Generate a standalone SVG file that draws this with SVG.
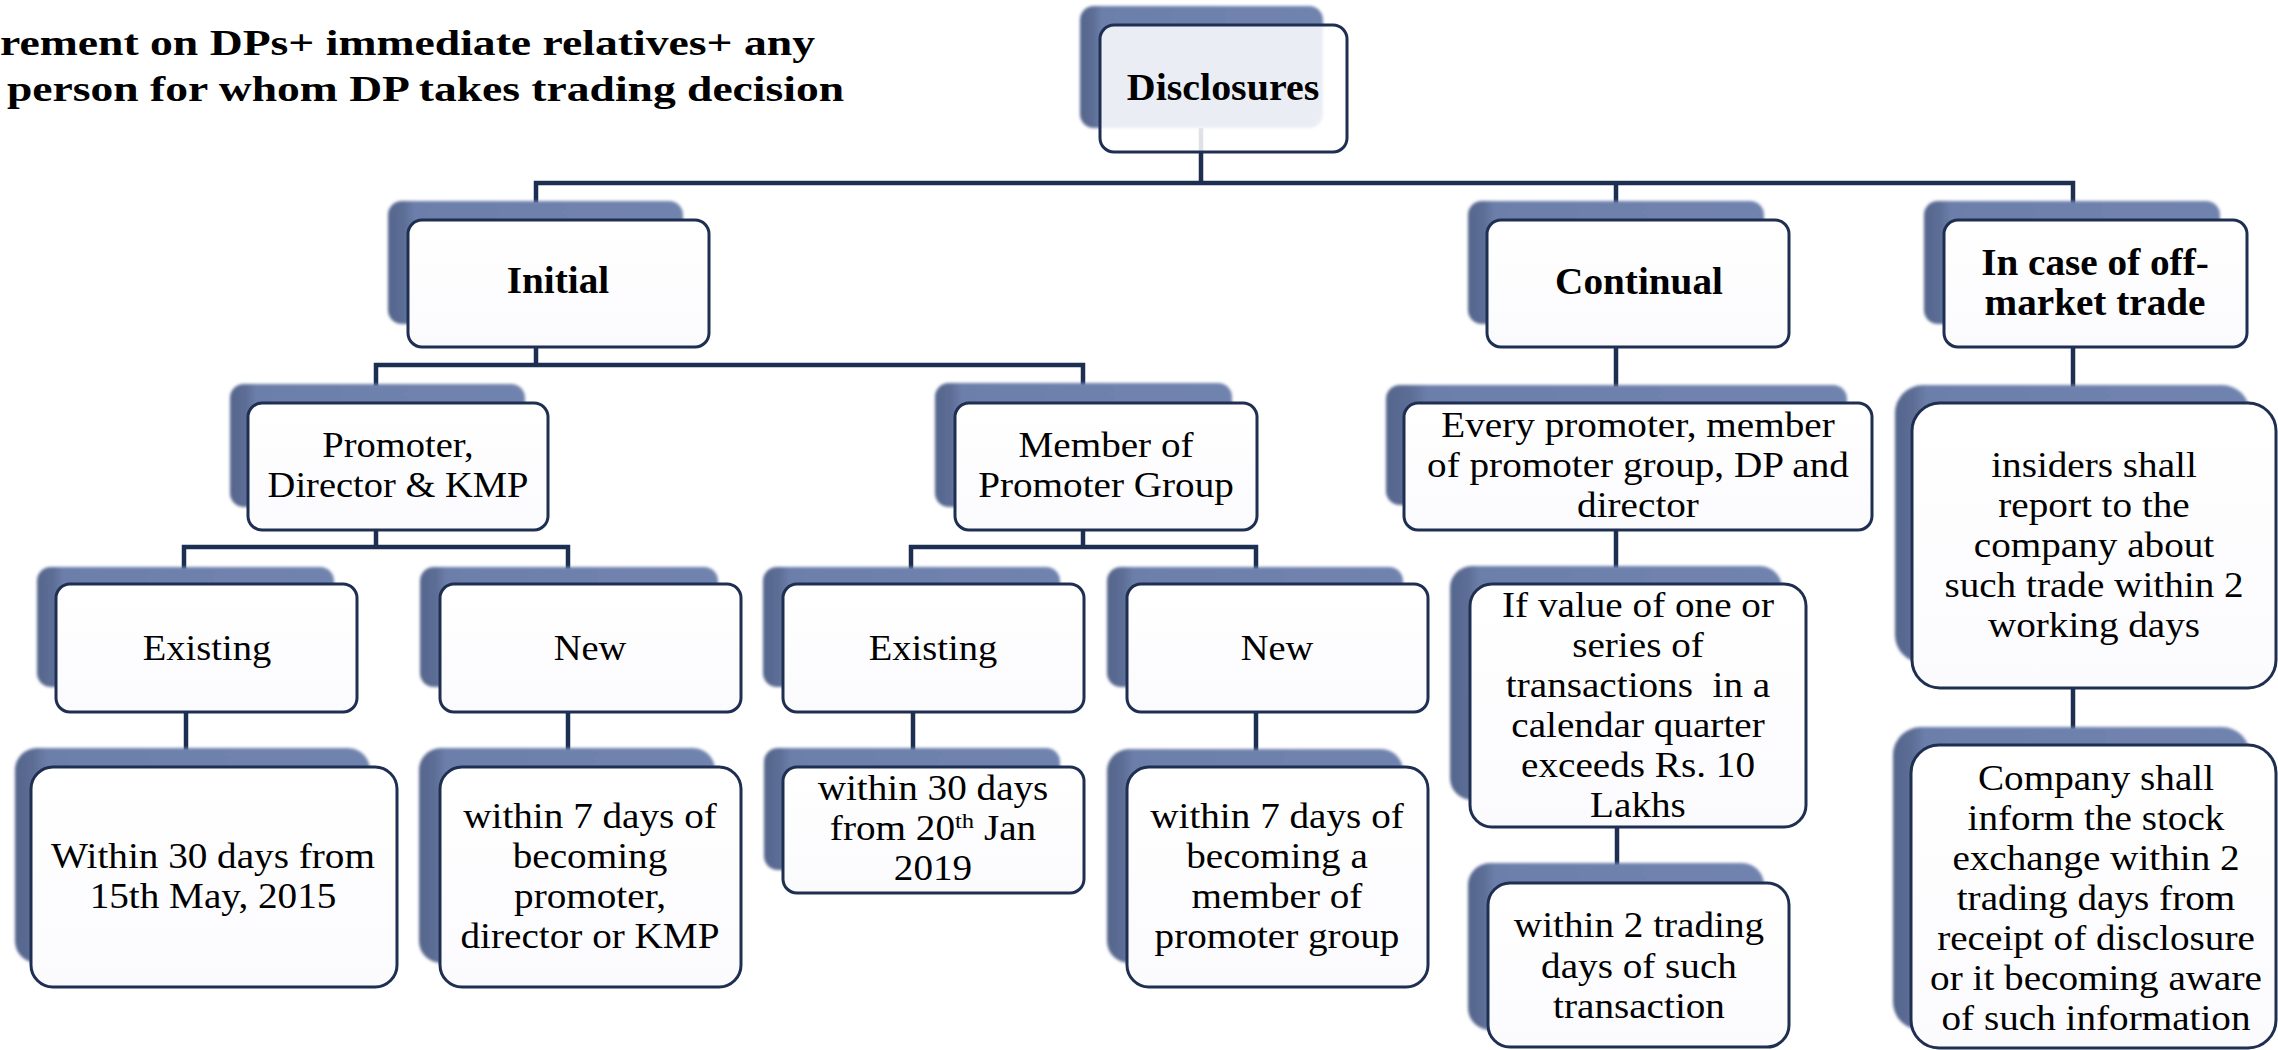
<svg xmlns="http://www.w3.org/2000/svg" width="2278" height="1050" viewBox="0 0 2278 1050">
<defs>
  <linearGradient id="shg" x1="0" y1="0" x2="1" y2="0">
    <stop offset="0" stop-color="#55658c"/>
    <stop offset="0.055" stop-color="#5d6e96"/>
    <stop offset="0.09" stop-color="#6c7faa"/>
    <stop offset="1" stop-color="#7083ae"/>
  </linearGradient>
  <linearGradient id="bxg" x1="0" y1="0" x2="0" y2="1">
    <stop offset="0" stop-color="#ffffff"/>
    <stop offset="1" stop-color="#fbfbfe"/>
  </linearGradient>
  <filter id="soft" x="-5%" y="-5%" width="110%" height="110%">
    <feGaussianBlur stdDeviation="1.6"/>
  </filter>
</defs>
<style>
  .sh { fill: url(#shg); filter: url(#soft); }
  .bx { fill: url(#bxg); stroke: #1e2f52; stroke-width: 3; }
  .bxt { fill: #ffffff; fill-opacity: 0.86; stroke: #1e2f52; stroke-width: 3; }
  .t { font-family: "Liberation Serif", "Times New Roman", serif; font-size: 35px; fill: #000; text-anchor: middle; }
  .b { font-family: "Liberation Serif", "Times New Roman", serif; font-size: 37px; font-weight: bold; fill: #000; text-anchor: middle; }
  .title { font-family: "Liberation Serif", "Times New Roman", serif; font-size: 36px; font-weight: bold; fill: #000; }
  .cn { fill: none; stroke: #1c2e52; stroke-width: 4.5; stroke-linecap: square; }
</style>

<g id="title">
  <text class="title" x="0" y="55" textLength="815" lengthAdjust="spacingAndGlyphs">rement on DPs+ immediate relatives+ any</text>
  <text class="title" x="7" y="101" textLength="837" lengthAdjust="spacingAndGlyphs">person for whom DP takes trading decision</text>
</g>

<g id="connectors">
  <path class="cn" d="M1201 130 V183 M536 183 H2073 M536 183 V201 M1616 183 V202 M2073 183 V202"/>
  <path class="cn" d="M536 346 V365 M376 365 H1083 M376 365 V384 M1083 365 V383"/>
  <path class="cn" d="M376 530 V547 M184 547 H568 M184 547 V567 M568 547 V567"/>
  <path class="cn" d="M1083 530 V547 M911 547 H1256 M911 547 V567 M1256 547 V567"/>
  <path class="cn" d="M186 712 V748 M568 712 V748 M913 712 V748 M1256 712 V749"/>
  <path class="cn" d="M1616 347 V385 M1616 530 V566 M1617 827 V863"/>
  <path class="cn" d="M2073 347 V385 M2073 688 V727"/>
</g>

<g id="n-disclosures">
  <rect class="sh" x="1080" y="6" width="243" height="122" rx="14"/>
  <rect class="bxt" x="1100" y="25" width="247" height="127" rx="14"/>
  <g transform="translate(1223 0) scale(1.08 1)"><text class="b" x="0" y="100">Disclosures</text></g>
</g>

<g id="n-initial">
  <rect class="sh" x="388" y="201" width="295" height="123" rx="14"/>
  <rect class="bx" x="408" y="220" width="301" height="127" rx="14"/>
  <g transform="translate(558 0) scale(1.06 1)"><text class="b" x="0" y="293">Initial</text></g>
</g>

<g id="n-continual">
  <rect class="sh" x="1468" y="201" width="296" height="123" rx="14"/>
  <rect class="bx" x="1487" y="220" width="302" height="127" rx="14"/>
  <g transform="translate(1639 0) scale(1.06 1)"><text class="b" x="0" y="294">Continual</text></g>
</g>

<g id="n-offmarket">
  <rect class="sh" x="1924" y="201" width="296" height="123" rx="14"/>
  <rect class="bx" x="1944" y="220" width="303" height="127" rx="14"/>
  <g transform="translate(2095 0) scale(1.06 1)">
    <text class="b" x="0" y="275">In case of off-</text>
    <text class="b" x="0" y="315">market trade</text>
  </g>
</g>

<g id="n-pdk">
  <rect class="sh" x="230" y="384" width="295" height="123" rx="14"/>
  <rect class="bx" x="248" y="403" width="300" height="127" rx="14"/>
  <g transform="translate(398 0) scale(1.1 1)">
    <text class="t" x="0" y="457">Promoter,</text>
    <text class="t" x="0" y="497">Director &amp; KMP</text>
  </g>
</g>

<g id="n-mpg">
  <rect class="sh" x="935" y="383" width="297" height="124" rx="14"/>
  <rect class="bx" x="955" y="403" width="302" height="127" rx="14"/>
  <g transform="translate(1106 0) scale(1.12 1)">
    <text class="t" x="0" y="457">Member of</text>
    <text class="t" x="0" y="497">Promoter Group</text>
  </g>
</g>

<g id="n-every">
  <rect class="sh" x="1386" y="385" width="461" height="120" rx="14"/>
  <rect class="bx" x="1404" y="403" width="468" height="127" rx="14"/>
  <g transform="translate(1638 0) scale(1.12 1)">
    <text class="t" x="0" y="437">Every promoter, member</text>
    <text class="t" x="0" y="477">of promoter group, DP and</text>
    <text class="t" x="0" y="517">director</text>
  </g>
</g>

<g id="n-insiders">
  <rect class="sh" x="1895" y="385" width="355" height="278" rx="28"/>
  <rect class="bx" x="1912" y="403" width="364" height="285" rx="28"/>
  <g transform="translate(2094 0) scale(1.12 1)">
    <text class="t" x="0" y="477">insiders shall</text>
    <text class="t" x="0" y="517">report to the</text>
    <text class="t" x="0" y="557">company about</text>
    <text class="t" x="0" y="597">such trade within 2</text>
    <text class="t" x="0" y="637">working days</text>
  </g>
</g>

<g id="n-pdk-existing">
  <rect class="sh" x="37" y="567" width="297" height="120" rx="14"/>
  <rect class="bx" x="56" y="584" width="301" height="128" rx="14"/>
  <g transform="translate(207 0) scale(1.1 1)"><text class="t" x="0" y="660">Existing</text></g>
</g>

<g id="n-pdk-new">
  <rect class="sh" x="420" y="567" width="298" height="120" rx="14"/>
  <rect class="bx" x="440" y="584" width="301" height="128" rx="14"/>
  <g transform="translate(590 0) scale(1.1 1)"><text class="t" x="0" y="660">New</text></g>
</g>

<g id="n-mpg-existing">
  <rect class="sh" x="763" y="567" width="297" height="120" rx="14"/>
  <rect class="bx" x="783" y="584" width="301" height="128" rx="14"/>
  <g transform="translate(933 0) scale(1.1 1)"><text class="t" x="0" y="660">Existing</text></g>
</g>

<g id="n-mpg-new">
  <rect class="sh" x="1107" y="567" width="296" height="120" rx="14"/>
  <rect class="bx" x="1127" y="584" width="301" height="128" rx="14"/>
  <g transform="translate(1277 0) scale(1.1 1)"><text class="t" x="0" y="660">New</text></g>
</g>

<g id="n-ifvalue">
  <rect class="sh" x="1450" y="566" width="332" height="234" rx="22"/>
  <rect class="bx" x="1470" y="584" width="336" height="243" rx="22"/>
  <g transform="translate(1638 0) scale(1.12 1)">
    <text class="t" x="0" y="617">If value of one or</text>
    <text class="t" x="0" y="657">series of</text>
    <text class="t" x="0" y="697" xml:space="preserve">transactions  in a</text>
    <text class="t" x="0" y="737">calendar quarter</text>
    <text class="t" x="0" y="777">exceeds Rs. 10</text>
    <text class="t" x="0" y="817">Lakhs</text>
  </g>
</g>

<g id="n-within30">
  <rect class="sh" x="15" y="748" width="355" height="215" rx="22"/>
  <rect class="bx" x="31" y="767" width="366" height="220" rx="22"/>
  <g transform="translate(213 0) scale(1.12 1)">
    <text class="t" x="0" y="868">Within 30 days from</text>
    <text class="t" x="0" y="908">15th May, 2015</text>
  </g>
</g>

<g id="n-within7-pdk">
  <rect class="sh" x="419" y="748" width="296" height="215" rx="22"/>
  <rect class="bx" x="440" y="767" width="301" height="220" rx="22"/>
  <g transform="translate(590 0) scale(1.12 1)">
    <text class="t" x="0" y="828">within 7 days of</text>
    <text class="t" x="0" y="868">becoming</text>
    <text class="t" x="0" y="908">promoter,</text>
    <text class="t" x="0" y="948">director or KMP</text>
  </g>
</g>

<g id="n-within30-jan">
  <rect class="sh" x="764" y="748" width="296" height="122" rx="14"/>
  <rect class="bx" x="783" y="767" width="301" height="126" rx="14"/>
  <g transform="translate(933 0) scale(1.12 1)">
    <text class="t" x="0" y="800">within 30 days</text>
    <text class="t" x="0" y="840">from 20<tspan font-size="22" dy="-12">th</tspan><tspan dy="12"> Jan</tspan></text>
    <text class="t" x="0" y="880">2019</text>
  </g>
</g>

<g id="n-within7-mpg">
  <rect class="sh" x="1107" y="749" width="296" height="214" rx="22"/>
  <rect class="bx" x="1127" y="767" width="301" height="220" rx="22"/>
  <g transform="translate(1277 0) scale(1.12 1)">
    <text class="t" x="0" y="828">within 7 days of</text>
    <text class="t" x="0" y="868">becoming a</text>
    <text class="t" x="0" y="908">member of</text>
    <text class="t" x="0" y="948">promoter group</text>
  </g>
</g>

<g id="n-within2">
  <rect class="sh" x="1468" y="863" width="296" height="167" rx="22"/>
  <rect class="bx" x="1488" y="883" width="301" height="164" rx="22"/>
  <g transform="translate(1639 0) scale(1.12 1)">
    <text class="t" x="0" y="937">within 2 trading</text>
    <text class="t" x="0" y="978">days of such</text>
    <text class="t" x="0" y="1018">transaction</text>
  </g>
</g>

<g id="n-company">
  <rect class="sh" x="1893" y="727" width="357" height="303" rx="28"/>
  <rect class="bx" x="1911" y="745" width="365" height="303" rx="28"/>
  <g transform="translate(2096 0) scale(1.12 1)">
    <text class="t" x="0" y="790">Company shall</text>
    <text class="t" x="0" y="830">inform the stock</text>
    <text class="t" x="0" y="870">exchange within 2</text>
    <text class="t" x="0" y="910">trading days from</text>
    <text class="t" x="0" y="950">receipt of disclosure</text>
    <text class="t" x="0" y="990">or it becoming aware</text>
    <text class="t" x="0" y="1030">of such information</text>
  </g>
</g>
</svg>
